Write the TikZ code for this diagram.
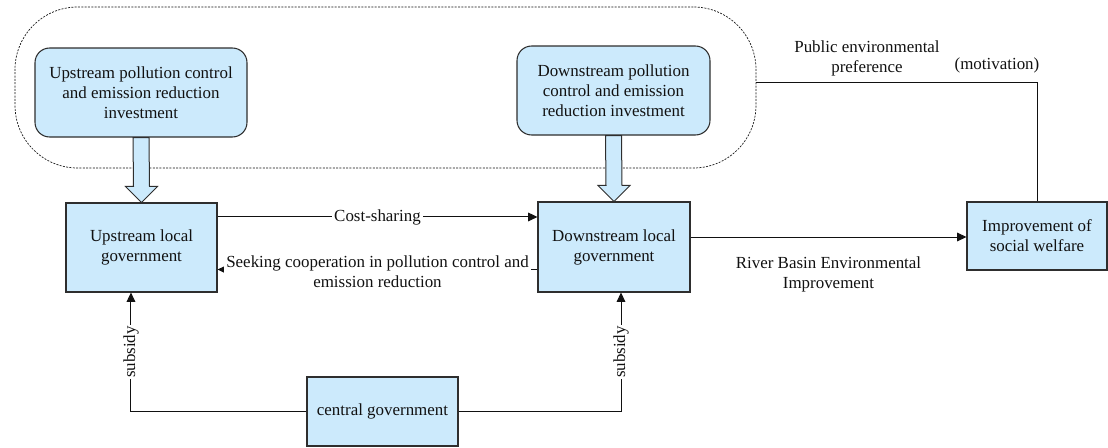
\documentclass[tikz,border=0pt]{standalone}
\usepackage{fontspec}
\setmainfont{Liberation Serif}
\usetikzlibrary{arrows.meta,positioning,calc}
\definecolor{BoxFill}{HTML}{CCEAFC}
\definecolor{BoxLine}{HTML}{2E2E2E}
\definecolor{Ink}{HTML}{111111}
\tikzset{
  txt/.style={font=\fontsize{12.7pt}{15pt}\selectfont,text=Ink,align=center},
  govbox/.style={txt,draw=BoxLine,fill=BoxFill,line width=0.8pt,inner sep=2pt},
  investbox/.style={govbox,rounded corners=11pt},
  lbl/.style={txt,inner sep=1.5pt},
  arr/.style={-{Triangle[length=7pt,width=6.5pt]},draw=Ink,line width=0.75pt},
  plain/.style={draw=Ink,line width=0.75pt},
  hollow/.style={draw=BoxLine,fill=BoxFill,line width=0.75pt,line join=miter}
}

\begin{document}
\begin{tikzpicture}[x=0.75pt,y=-0.75pt]
  \useasboundingbox (0,0) rectangle (1108,447);
  % dashed group round the two investments
  \node[draw=Ink,line width=0.5pt,dash pattern=on 1.5pt off 1pt,rounded corners=47pt,
        minimum width=555.75pt,minimum height=120.75pt] (grp) at (385.5,87.5) {};
  \node[investbox,minimum width=159pt,minimum height=66.75pt] (ui) at (141,92.5)
    {Upstream pollution control\\and emission reduction\\investment};
  \node[investbox,minimum width=144.75pt,minimum height=66.75pt] (di) at (613.5,90.5)
    {Downstream pollution\\control and emission\\reduction investment};
  \node[govbox,minimum width=113.25pt,minimum height=66.75pt] (ug) at (141.5,247.5)
    {Upstream local\\government};
  \node[govbox,minimum width=114pt,minimum height=67.5pt] (dg) at (614,247)
    {Downstream local\\government};
  \node[govbox,minimum width=105pt,minimum height=51pt] (wel) at (1037,236)
    {Improvement of\\social welfare};
  \node[govbox,minimum width=113.25pt,minimum height=51.75pt] (cg) at (382.5,411.5)
    {central government};
  % hollow arrows
  \draw[hollow] ([xshift=-6pt]ui.south) -- ([xshift=-6pt,yshift=12pt]ug.north)
    -- ([xshift=-12pt,yshift=12pt]ug.north) -- (ug.north)
    -- ([xshift=12pt,yshift=12pt]ug.north) -- ([xshift=6pt,yshift=12pt]ug.north)
    -- ([xshift=6pt]ui.south) -- cycle;
  \draw[hollow] ([xshift=-6pt]di.south) -- ([xshift=-6pt,yshift=12pt]dg.north)
    -- ([xshift=-12pt,yshift=12pt]dg.north) -- (dg.north)
    -- ([xshift=12pt,yshift=12pt]dg.north) -- ([xshift=6pt,yshift=12pt]dg.north)
    -- ([xshift=6pt]di.south) -- cycle;
  % between the local governments
  \draw[arr] ([yshift=22.9pt]ug.east) -- ([yshift=22.9pt]ug.east -| dg.west)
    node[lbl,midway,fill=white] {Cost-sharing};
  \draw[arr] ([yshift=-16.9pt]dg.west) -- ([yshift=-16.9pt]dg.west -| ug.east)
    node[lbl,midway,fill=white,yshift=-1.5pt] {Seeking cooperation in pollution control and\\emission reduction};
  \draw[arr] ([yshift=7.5pt]dg.east) -- ([yshift=7.5pt]dg.east -| wel.west)
    node[lbl,midway,below=13pt] {River Basin Environmental\\Improvement};
  \draw[plain] ([yshift=4.1pt]grp.east) -| (wel.north);
  \node[lbl] (pub) at (867,58) {Public environmental\\preference};
  \node[lbl] (mot) at (997,65) {(motivation)};
  % subsidies
  \draw[arr] (cg.west) -| ([xshift=-7.9pt]ug.south)
    node[lbl,pos=0.75,rotate=90,fill=white,inner sep=0.5pt] {subsidy};
  \draw[arr] (cg.east) -| ([xshift=5.25pt]dg.south)
    node[lbl,pos=0.75,rotate=90,fill=white,inner sep=0.5pt] {subsidy};
\end{tikzpicture}
\end{document}
